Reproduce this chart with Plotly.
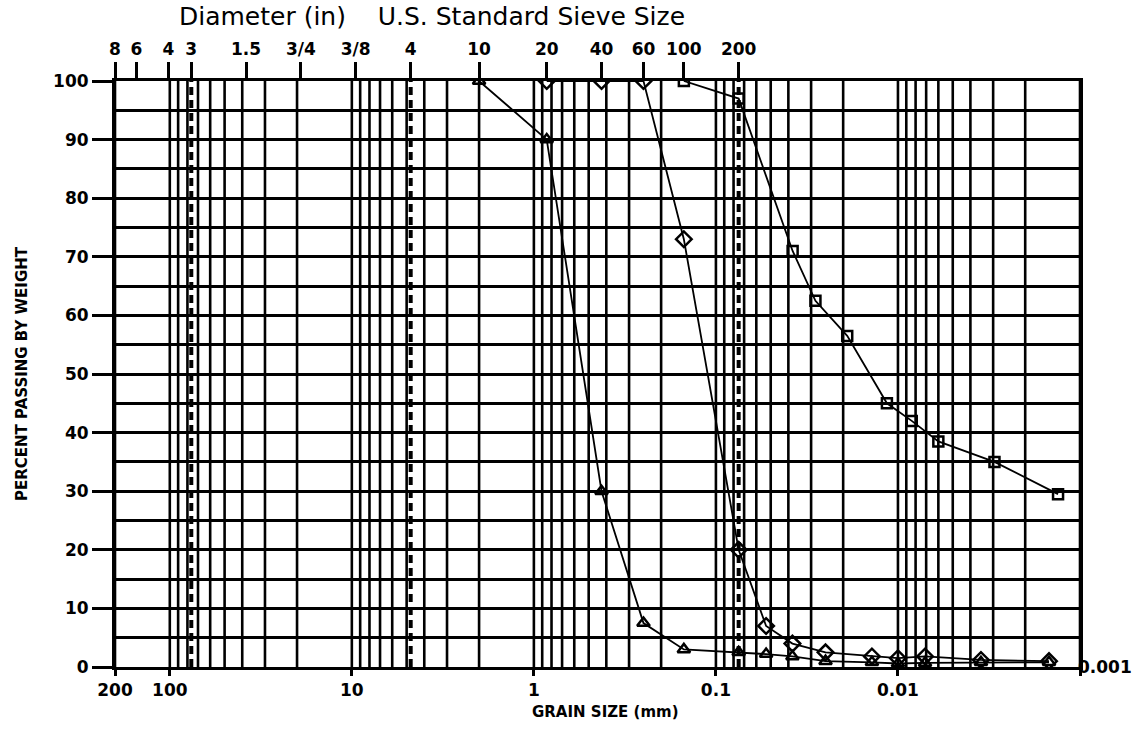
import math
import plotly.graph_objects as go

# ---------------- data ----------------
# Series A (triangles)
a_mm = [2.0, 0.85, 0.425, 0.25, 0.15, 0.075, 0.053, 0.038, 0.025, 0.0139, 0.010, 0.0071, 0.0035, 0.00148]
a_pct = [100, 90, 30, 7.5, 3, 2.5, 2.2, 1.8, 1.0, 0.8, 0.6, 0.7, 0.8, 0.8]
# Series B (diamonds)
b_mm = [0.85, 0.425, 0.25, 0.15, 0.075, 0.053, 0.038, 0.025, 0.0139, 0.010, 0.0071, 0.0035, 0.00148]
b_pct = [100, 100, 100, 73, 20, 7, 4, 2.5, 1.8, 1.5, 1.8, 1.2, 1.0]
# Series C (squares)
c_mm = [0.15, 0.075, 0.0379, 0.0284, 0.019, 0.0115, 0.0084, 0.0060, 0.00295, 0.00132]
c_pct = [100, 97, 71, 62.5, 56.5, 45, 42, 38.5, 35, 29.5]

sieve_mm = [199.9, 152.4, 101.6, 76.2, 38.1, 19.05, 9.525, 4.75, 2.0, 0.85, 0.425, 0.25, 0.15, 0.075]
sieve_lbl = ["8", "6", "4", "3", "1.5", "3/4", "3/8", "4", "10", "20", "40", "60", "100", "200"]
bottom_vals = [200, 100, 10, 1, 0.1, 0.01, 0.001]
bottom_lbl = ["200", "100", "10", "1", "0.1", "0.01", ""]
dashed_mm = [76.2, 4.75, 0.075]
y_ticks = list(range(0, 101, 10))

XMIN, XMAX = 0.001, 200
FONT = "DejaVu Sans"

fig = go.Figure()

# vertical log grid lines
grid_vals = [k * 10 ** e for e in range(-3, 3) for k in range(1, 10) if XMIN <= k * 10 ** e <= XMAX]
gx, gy = [], []
for v in grid_vals:
    gx += [v, v, None]
    gy += [0, 100, None]
fig.add_trace(go.Scatter(x=gx, y=gy, mode="lines", line=dict(color="black", width=2.6),
                         hoverinfo="skip", showlegend=False))
# dashed sieve lines
dx, dy = [], []
for v in dashed_mm:
    dx += [v, v, None]
    dy += [0, 100, None]
fig.add_trace(go.Scatter(x=dx, y=dy, mode="lines", line=dict(color="black", width=4, dash="8px,5px"),
                         hoverinfo="skip", showlegend=False))

line_style = dict(color="black", width=1.8)
fig.add_trace(go.Scatter(x=a_mm, y=a_pct, mode="lines+markers", line=line_style,
                         marker=dict(symbol="triangle-up-open", size=11, color="black", line=dict(width=2.5)),
                         showlegend=False))
fig.add_trace(go.Scatter(x=b_mm, y=b_pct, mode="lines+markers", line=line_style,
                         marker=dict(symbol="diamond-open", size=12, color="black", line=dict(width=2.5)),
                         showlegend=False))
fig.add_trace(go.Scatter(x=c_mm, y=c_pct, mode="lines+markers", line=line_style,
                         marker=dict(symbol="square-open", size=10, color="black", line=dict(width=2.5)),
                         showlegend=False))
# invisible trace to activate top axis
fig.add_trace(go.Scatter(x=[XMIN, XMAX], y=[0, 0], xaxis="x2", mode="markers",
                         marker=dict(opacity=0), hoverinfo="skip", showlegend=False))

xr = [math.log10(XMAX), math.log10(XMIN)]
tickfont = dict(family=FONT, size=17, color="black", weight="bold")

fig.update_layout(
    width=1132, height=747,
    margin=dict(l=115, r=52, t=81, b=80),
    paper_bgcolor="white", plot_bgcolor="white",
    xaxis=dict(type="log", range=xr, showgrid=False, zeroline=False,
               tickmode="array", tickvals=bottom_vals, ticktext=bottom_lbl,
               ticks="outside", ticklen=6, tickwidth=3, tickcolor="black",
               showline=True, linewidth=3, linecolor="black", mirror=True,
               tickfont=tickfont),
    xaxis2=dict(type="log", range=xr, overlaying="x", side="top", showgrid=False, zeroline=False,
                tickmode="array", tickvals=sieve_mm, ticktext=sieve_lbl,
                ticks="outside", ticklen=18, tickwidth=2.5, tickcolor="black",
                tickfont=tickfont, showline=False),
    yaxis=dict(range=[0, 100], tickmode="array", tickvals=y_ticks,
               ticks="outside", ticklen=20, tickwidth=3, tickcolor="black",
               showgrid=True, gridcolor="black", gridwidth=3, zeroline=False,
               minor=dict(dtick=5, showgrid=True, gridcolor="black", gridwidth=3, ticks=""),
               showline=True, linewidth=3, linecolor="black", mirror=True,
               tickfont=tickfont,
               title=dict(text="PERCENT PASSING BY WEIGHT",
                          font=dict(family=FONT, size=15, color="black", weight="bold"), standoff=22)),
    annotations=[
        dict(text="Diameter (in)&nbsp;&nbsp;&nbsp;&nbsp;U.S. Standard Sieve Size", xref="paper", yref="paper",
             x=(432 - 115) / 965, y=1 + (81 - 17) / 586, xanchor="center", yanchor="middle",
             showarrow=False, font=dict(family=FONT, size=25, color="black")),
        dict(text="0.001", xref="paper", yref="paper", x=(1105 - 115) / 965, y=0,
             xanchor="center", yanchor="middle", showarrow=False, font=tickfont),
        dict(text="GRAIN SIZE (mm)", xref="paper", yref="paper", x=(605 - 115) / 965, y=-(712 - 667) / 586,
             xanchor="center", yanchor="middle", showarrow=False,
             font=dict(family=FONT, size=15, color="black", weight="bold")),
    ],
)

fig.write_html("out.html")
